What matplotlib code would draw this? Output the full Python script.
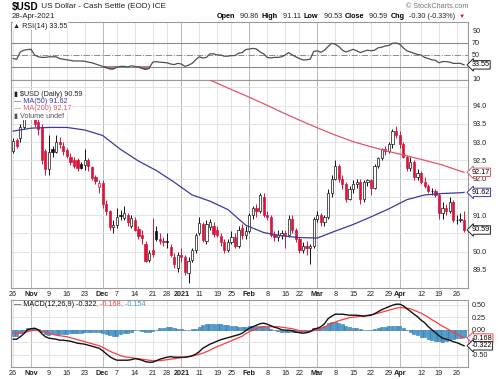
import numpy as np
import pandas as pd
import matplotlib
matplotlib.use("Agg")
import matplotlib.pyplot as plt

plt.rcParams['font.family'] = ['Liberation Sans', 'DejaVu Sans']

# trading calendar
holidays = ["2020-11-26", "2020-12-25", "2021-01-01", "2021-01-18", "2021-02-15", "2021-04-02"]
dates = pd.bdate_range("2020-10-26", "2021-04-28", freq="C", holidays=holidays)

# daily OHLC
opens = [92.75, 93.05, 93.10, 93.40, 93.90, 94.05, 94.00, 93.55, 93.40, 92.75,
         92.25, 92.80, 92.73, 93.00, 92.90, 92.78, 92.60, 92.52, 92.50, 92.40,
         92.36, 92.50, 92.32, 92.05, 91.78, 91.88, 91.30, 91.10, 90.68, 90.72,
         91.00, 90.93, 91.00, 90.70, 90.85, 90.62, 90.45, 90.20, 89.78, 90.05,
         90.55, 90.35, 90.30, 90.28, 90.12, 89.85, 89.55, 89.90, 89.85, 89.40,
         89.78, 90.05, 90.50, 90.75, 90.30, 90.68, 90.70, 90.60, 90.42, 90.25,
         90.05, 90.25, 90.40, 90.15, 90.65, 90.45, 90.55, 91.00, 91.20, 91.10,
         91.50, 91.00, 90.95, 90.45, 90.40, 90.45, 90.50, 90.45, 90.90, 90.60,
         90.35, 90.05, 90.15, 90.10, 90.15, 90.90, 91.00, 90.80, 90.95, 91.60,
         92.00, 92.35, 92.00, 91.85, 91.45, 91.70, 91.85, 91.90, 91.45, 91.90,
         91.95, 91.75, 92.35, 92.55, 92.80, 92.75, 92.95, 93.30, 93.20, 92.95,
         92.60, 92.30, 92.45, 92.05, 92.15, 91.90, 91.80, 91.65, 91.65, 91.55,
         91.05, 91.20, 91.10, 91.35, 90.85, 90.85, 90.86]
highs = [93.10, 93.10, 93.50, 94.00, 94.10, 94.20, 94.10, 94.30, 93.50, 92.80,
         93.20, 92.90, 93.20, 93.15, 93.00, 92.85, 92.70, 92.60, 92.55, 92.45,
         92.80, 92.55, 92.35, 92.10, 91.95, 91.95, 91.40, 91.15, 90.85, 91.20,
         91.15, 91.25, 91.05, 91.00, 90.95, 90.70, 90.60, 90.30, 90.05, 90.92,
         90.70, 90.50, 90.40, 90.50, 90.20, 89.95, 90.00, 90.10, 89.90, 89.85,
         90.10, 90.50, 90.95, 90.80, 90.85, 90.90, 90.80, 90.70, 90.50, 90.35,
         90.35, 90.55, 90.50, 90.70, 90.75, 90.70, 91.05, 91.25, 91.30, 91.60,
         91.60, 91.10, 91.00, 90.55, 90.60, 90.60, 90.60, 91.00, 91.00, 90.65,
         90.40, 90.25, 90.30, 90.20, 90.95, 91.10, 91.05, 91.00, 91.70, 92.10,
         92.50, 92.40, 92.10, 91.90, 91.80, 91.95, 92.00, 92.00, 91.95, 92.00,
         92.00, 92.40, 92.60, 92.85, 92.90, 93.00, 93.35, 93.45, 93.30, 93.00,
         92.65, 92.60, 92.50, 92.25, 92.20, 92.05, 91.85, 91.75, 91.70, 91.60,
         91.35, 91.30, 91.50, 91.40, 91.00, 91.05, 91.11]
lows = [92.70, 92.85, 93.00, 93.35, 93.70, 93.90, 93.40, 93.20, 92.40, 92.10,
        92.10, 92.60, 92.70, 92.85, 92.65, 92.55, 92.38, 92.30, 92.20, 92.25,
        92.22, 92.20, 91.95, 91.85, 91.60, 91.20, 91.00, 90.60, 90.50, 90.65,
        90.85, 90.85, 90.70, 90.65, 90.55, 90.35, 90.20, 89.70, 89.70, 89.85,
        90.30, 90.20, 90.15, 90.10, 89.85, 89.55, 89.45, 89.70, 89.35, 89.15,
        89.70, 89.95, 90.45, 90.25, 90.20, 90.60, 90.40, 90.40, 90.15, 89.95,
        90.00, 90.20, 90.10, 90.10, 90.35, 90.35, 90.50, 90.90, 90.95, 91.05,
        90.95, 90.85, 90.40, 90.30, 90.30, 90.35, 90.10, 90.40, 90.50, 90.25,
        89.95, 89.95, 89.90, 89.65, 90.10, 90.80, 90.70, 90.70, 90.90, 91.50,
        91.95, 91.90, 91.70, 91.35, 91.40, 91.60, 91.75, 91.30, 91.35, 91.80,
        91.55, 91.70, 92.30, 92.50, 92.65, 92.70, 92.85, 93.10, 92.85, 92.55,
        92.20, 92.20, 91.95, 91.95, 91.85, 91.75, 91.60, 91.55, 91.50, 90.90,
        90.90, 91.00, 91.05, 90.80, 90.75, 90.80, 90.53]
closes = [93.02, 92.90, 93.40, 93.90, 94.00, 94.00, 93.50, 93.35, 92.50, 92.25,
          92.73, 92.73, 93.00, 92.95, 92.75, 92.62, 92.45, 92.35, 92.30, 92.30,
          92.50, 92.35, 92.02, 91.92, 91.88, 91.30, 91.10, 90.68, 90.72, 90.95,
          90.97, 91.05, 90.80, 90.92, 90.60, 90.42, 90.38, 89.75, 89.96, 89.92,
          90.35, 90.30, 90.25, 90.27, 89.90, 89.65, 89.90, 89.85, 89.45, 89.75,
          90.05, 90.45, 90.78, 90.32, 90.75, 90.80, 90.48, 90.45, 90.25, 90.05,
          90.25, 90.40, 90.15, 90.60, 90.45, 90.55, 91.00, 91.20, 91.10, 91.55,
          91.00, 90.95, 90.45, 90.40, 90.45, 90.50, 90.45, 90.90, 90.60, 90.35,
          90.05, 90.15, 90.10, 90.15, 90.90, 91.00, 90.80, 90.95, 91.60, 92.00,
          92.35, 92.00, 91.85, 91.45, 91.70, 91.85, 91.90, 91.45, 91.90, 91.95,
          91.75, 92.35, 92.55, 92.80, 92.75, 92.95, 93.30, 93.20, 92.95, 92.60,
          92.30, 92.45, 92.05, 92.15, 91.90, 91.80, 91.65, 91.65, 91.55, 91.05,
          91.20, 91.10, 91.35, 90.85, 90.85, 90.90, 90.59]

# moving averages, sampled every 5th session (+ last)
ma50 = [93.30, 93.38, 93.40, 93.40, 93.33, 93.18, 92.80, 92.48, 92.22, 91.90,
        91.55, 91.38, 91.15, 90.72, 90.52, 90.43, 90.38, 90.37, 90.56, 90.74,
        90.95, 91.17, 91.42, 91.55, 91.59, 91.61, 91.62]
ma200_start = 55
ma200 = [94.70, 94.48, 94.27, 94.05, 93.82, 93.60, 93.39, 93.19, 93.01, 92.87,
         92.74, 92.62, 92.50, 92.37, 92.20, 92.17]

rsi = [44, 43, 55, 58, 59, 59.5, 50, 47, 46, 46, 47, 47, 47, 44, 43, 42, 41, 40, 40, 40,
       39.5, 38, 37, 35, 33, 31, 29, 27, 27, 30, 31, 31, 30, 32, 31, 30, 28, 26, 28, 38,
       39, 38, 37.5, 37, 35, 34, 36, 35, 31, 33, 36, 42, 47, 45, 46, 52, 52, 50, 50, 48,
       48, 49, 49, 53, 54, 59, 60, 61, 60, 55, 52, 46, 45, 46, 46, 47, 50, 54, 50, 47,
       44, 41.7, 42, 43, 56, 57, 54.5, 58, 64, 69.5, 68, 64, 58, 55, 57, 59.5, 57, 54, 56, 58,
       57, 58, 62, 63, 65, 66, 69.5, 70, 68, 62, 57, 55, 52.8, 51, 50, 46, 44, 42, 41, 37,
       39, 39, 38, 36, 36, 36, 33.55]

macd = [-0.19, -0.19, -0.14, -0.08, 0.00, 0.02, 0.03, 0.00, -0.08, -0.14,
        -0.17, -0.18, -0.19, -0.21, -0.21, -0.22, -0.23, -0.25, -0.27, -0.28,
        -0.29, -0.31, -0.33, -0.35, -0.37, -0.42, -0.48, -0.54, -0.58, -0.61,
        -0.61, -0.61, -0.61, -0.60, -0.58, -0.59, -0.61, -0.64, -0.65, -0.65,
        -0.62, -0.59, -0.57, -0.55, -0.54, -0.55, -0.55, -0.55, -0.55, -0.54,
        -0.52, -0.49, -0.44, -0.37, -0.33, -0.29, -0.26, -0.23, -0.20, -0.18,
        -0.16, -0.14, -0.12, -0.10, -0.07, -0.02, 0.03, 0.06, 0.09, 0.12,
        0.13, 0.11, 0.08, 0.05, 0.03, 0.00, -0.01, -0.01, -0.02, -0.05,
        -0.06, -0.07, -0.06, -0.04, 0.01, 0.03, 0.06, 0.12, 0.22, 0.27,
        0.31, 0.31, 0.31, 0.30, 0.29, 0.29, 0.29, 0.28, 0.27, 0.28,
        0.29, 0.32, 0.36, 0.40, 0.43, 0.46, 0.49, 0.51, 0.51, 0.48,
        0.42, 0.37, 0.31, 0.26, 0.19, 0.14, 0.06, 0.00, -0.06, -0.12,
        -0.17, -0.19, -0.21, -0.24, -0.26, -0.29, -0.322]
signal = [-0.07, -0.07, -0.07, -0.06, -0.04, -0.02, -0.01, -0.02, -0.03, -0.05,
          -0.07, -0.09, -0.11, -0.12, -0.13, -0.14, -0.16, -0.18, -0.20, -0.22,
          -0.24, -0.26, -0.28, -0.30, -0.32, -0.35, -0.39, -0.43, -0.46, -0.49,
          -0.52, -0.54, -0.55, -0.56, -0.57, -0.58, -0.59, -0.60, -0.61, -0.62,
          -0.62, -0.62, -0.61, -0.60, -0.59, -0.58, -0.57, -0.56, -0.55, -0.54,
          -0.53, -0.51, -0.49, -0.47, -0.44, -0.41, -0.37, -0.34, -0.31, -0.28,
          -0.25, -0.22, -0.19, -0.16, -0.13, -0.08, -0.04, -0.01, 0.02, 0.05,
          0.06, 0.06, 0.06, 0.06, 0.06, 0.05, 0.04, 0.03, 0.02, 0.00,
          -0.02, -0.04, -0.04, -0.03, -0.02, 0.00, 0.03, 0.05, 0.09, 0.12,
          0.15, 0.18, 0.20, 0.22, 0.24, 0.25, 0.26, 0.27, 0.28, 0.29,
          0.30, 0.31, 0.33, 0.35, 0.37, 0.39, 0.41, 0.43, 0.44, 0.44,
          0.43, 0.42, 0.39, 0.36, 0.33, 0.29, 0.25, 0.20, 0.16, 0.11,
          0.07, 0.03, -0.01, -0.05, -0.09, -0.13, -0.168]

tick_days = ["2020-10-26", "2020-11-02", "2020-11-09", "2020-11-16", "2020-11-23",
             "2020-12-01", "2020-12-07", "2020-12-14", "2020-12-21", "2020-12-28",
             "2021-01-04", "2021-01-11", "2021-01-19", "2021-01-25", "2021-02-01",
             "2021-02-08", "2021-02-16", "2021-02-22", "2021-03-01", "2021-03-08",
             "2021-03-15", "2021-03-22", "2021-03-29", "2021-04-01", "2021-04-12",
             "2021-04-19", "2021-04-26"]
tick_text = ["26", "Nov", "9", "16", "23", "Dec", "7", "14", "21", "28", "2021", "11", "19",
             "25", "Feb", "8", "16", "22", "Mar", "8", "15", "22", "29", "Apr", "12", "19", "26"]
month_ticks = ["Nov", "Dec", "2021", "Feb", "Mar", "Apr"]

n = len(dates)
assert len(opens) == len(highs) == len(lows) == len(closes) == len(rsi) == len(macd) == len(signal) == n

o = np.array(opens); h = np.array(highs); l = np.array(lows); c = np.array(closes)
xs = np.arange(n)
tick_x = [dates.get_loc(pd.Timestamp(d)) for d in tick_days]

W, H = 500, 379
fig = plt.figure(figsize=(W / 100, H / 100), dpi=100)
RED = '#d8143c'
GRID = '#e3e3e3'
MGRID = '#b8b8b8'
FS = 5.2


def panel(top, bottom):
    ax = fig.add_axes([11 / W, 1 - bottom / H, 457 / W, (bottom - top) / H])
    ax.set_xlim(-0.6, n + 0.1)
    for s in ax.spines.values():
        s.set_color('#9a9a9a')
        s.set_linewidth(0.8)
    ax.yaxis.tick_right()
    ax.tick_params(length=0, labelsize=FS, colors='#222222', pad=3)
    ax.tick_params(axis='x', pad=2)
    for tx, tt in zip(tick_x, tick_text):
        ax.axvline(tx, color=MGRID if tt in month_ticks else GRID, lw=0.7, zorder=0)
    ax.set_xticks(tick_x)
    return ax


def set_xlabels(ax):
    ax.set_xticklabels(tick_text)
    for lab in ax.get_xticklabels():
        if lab.get_text() in month_ticks:
            lab.set_fontweight('bold')


def tag(ax, y, txt, ec):
    ax.annotate(txt, xy=(1, y), xycoords=('axes fraction', 'data'), xytext=(2.5, 0),
                textcoords='offset points', fontsize=FS, va='center', ha='left',
                bbox=dict(boxstyle='larrow,pad=0.1', fc='white', ec=ec, lw=0.7),
                annotation_clip=False, zorder=10)


def seq_text(x0, y0, parts, gap=0):
    r = fig.canvas.get_renderer()
    x = x0
    for s, w, col, size in parts:
        t = fig.text(x / W, 1 - y0 / H, s, fontsize=size, fontweight=w, color=col,
                     va='center', ha='left', zorder=20)
        x += t.get_window_extent(renderer=r).width + gap


# ---- RSI panel
ax1 = panel(22, 80)
rsi_a = np.array(rsi)
ax1.plot(xs, rsi_a, color='#505050', lw=0.9, zorder=3)
ax1.fill_between(xs, rsi_a, 30, where=rsi_a < 30, interpolate=True, color='#a0524f', zorder=2)
ax1.axhline(70, color='#8a8a8a', lw=0.8)
ax1.axhline(30, color='#8a8a8a', lw=0.8)
ax1.axhline(50, color='#8a8a8a', lw=0.7, ls='-.')
ax1.set_ylim(8.3, 105)
ax1.set_yticks([10, 50, 70, 90])
ax1.set_xticklabels([])
tag(ax1, rsi[-1], f"{rsi[-1]:.2f}", '#222222')

# ---- price panel
ax2 = panel(80, 288)
for yv in np.arange(89.0, 95.0, 0.5):
    ax2.axhline(yv, color=GRID, lw=0.7, zorder=0)
prev = np.r_[o[0], c[:-1]]
colors = np.where(c >= prev, '#111111', RED)
faces = np.where(c >= o, 'white', colors)
ax2.vlines(xs, l, h, colors=colors, lw=0.7, zorder=2)
ax2.bar(xs, np.maximum(np.abs(c - o), 0.012), bottom=np.minimum(o, c), width=0.62,
        color=faces, edgecolor=colors, lw=0.5, zorder=3)
ma50_x = list(range(0, n, 5)) + [n - 1]
ma200_x = list(range(ma200_start, n, 5)) + [n - 1]
ax2.plot(ma50_x, ma50, color='#3a3aa0', lw=0.9, zorder=4)
ax2.plot(ma200_x, ma200, color='#e0566a', lw=0.9, zorder=4)
ax2.set_ylim(89.0, 94.70)
ax2.set_yticks([89.5, 90.0, 91.0, 92.0, 92.5, 93.0, 93.5, 94.0])
ax2.yaxis.set_major_formatter(plt.FormatStrFormatter('%.1f'))
set_xlabels(ax2)
tag(ax2, ma200[-1], f"{ma200[-1]:.2f}", '#e0566a')
tag(ax2, ma50[-1], f"{ma50[-1]:.2f}", '#3a3aa0')
tag(ax2, closes[-1], f"{closes[-1]:.2f}", '#222222')

# ---- MACD panel
ax3 = panel(300, 367)
for yv in [-0.5, -0.25, 0.25, 0.5]:
    ax3.axhline(yv, color=GRID, lw=0.7, zorder=0)
ax3.axhline(0, color='#cccccc', lw=0.7, zorder=0)
hist = np.array(macd) - np.array(signal)
ax3.bar(xs, hist, width=0.85, color='#4a9bd0', edgecolor='#2f77a8', lw=0.4, zorder=2)
ax3.plot(xs, macd, color='#111111', lw=1.0, zorder=4)
ax3.plot(xs, signal, color='#ff3b3b', lw=0.9, zorder=3)
ax3.set_ylim(-0.746, 0.594)
ax3.set_yticks([-0.5, 0, 0.25, 0.5])
ax3.yaxis.set_major_formatter(plt.FormatStrFormatter('%.2f'))
set_xlabels(ax3)
tag(ax3, signal[-1], f"{signal[-1]:.3f}", '#ff3b3b')
tag(ax3, macd[-1], f"{macd[-1]:.3f}", '#222222')

# ---- header and legends
seq_text(12, 7, [("$USD", 'bold', 'black', 7.2),
                 (" US Dollar - Cash Settle (EOD) ICE", 'normal', '#222222', 5.9)])
fig.text(12 / W, 1 - 16 / H, "28-Apr-2021", fontsize=5.6, color='#222222', va='center')
fig.text(468 / W, 1 - 6 / H, "© StockCharts.com", fontsize=5.2, color='#777777', va='center', ha='right')
seq_text(217, 16, [("Open", 'bold', 'black', FS), (" 90.86", 'normal', '#222222', FS),
                   ("High", 'bold', 'black', FS), (" 91.11", 'normal', '#222222', FS),
                   ("Low", 'bold', 'black', FS), (" 90.53", 'normal', '#222222', FS),
                   ("Close", 'bold', 'black', FS), (" 90.59", 'normal', '#222222', FS),
                   ("Chg", 'bold', 'black', FS), (" -0.30 (-0.33%)", 'normal', '#222222', FS),
                   ("▼", 'normal', RED, 4.5)], gap=3)

box = dict(fc='white', ec='none', pad=0.3)
fig.text(13 / W, 1 - 26 / H, "▲ RSI(14) 33.55", fontsize=FS, color='#222222', va='center', bbox=box)
fig.text(14 / W, 1 - 94 / H, "▮ $USD (Daily) 90.59", fontsize=FS, color='#222222', va='center', bbox=box)
fig.text(14 / W, 1 - 101.5 / H, "— MA(50) 91.62", fontsize=FS, color='#3a3aa0', va='center', bbox=box)
fig.text(14 / W, 1 - 109 / H, "— MA(200) 92.17", fontsize=FS, color='#e0566a', va='center', bbox=box)
fig.text(14 / W, 1 - 116.5 / H, "▮ Volume undef", fontsize=FS, color='#555555', va='center', bbox=box)
seq_text(14, 304, [("— MACD(12,26,9) -0.322", 'normal', '#111111', FS),
                   (", -0.168", 'normal', '#ff3b3b', FS),
                   (", -0.154", 'normal', '#3fa0d8', FS)])

fig.savefig("out.png", dpi=100)
